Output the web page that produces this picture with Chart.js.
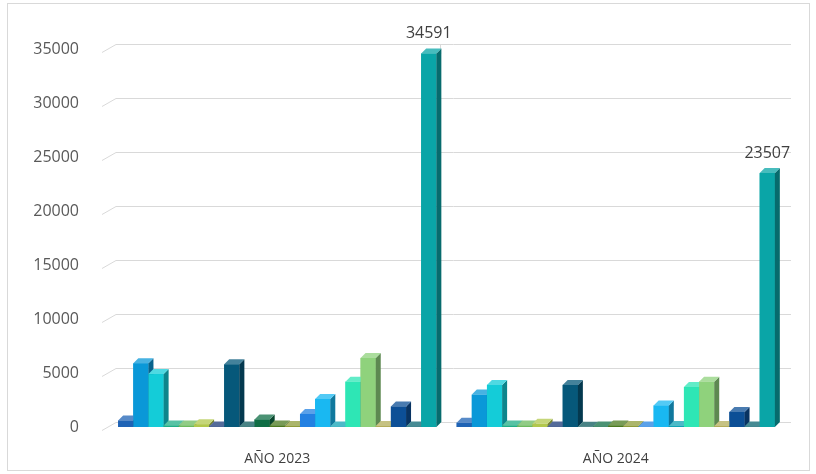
<!DOCTYPE html>
<html>
<head>
<meta charset="utf-8">
<script src="https://cdn.jsdelivr.net/npm/chart.js@4.4.1/dist/chart.umd.min.js"></script>
<style>
  html,body{margin:0;padding:0;background:#fff;}
  #frame{position:absolute;left:7px;top:3px;width:803px;height:468px;border:1px solid #d9d9d9;box-sizing:border-box;}
  #wrap{position:absolute;left:0;top:0;width:816px;height:474px;}
</style>
</head>
<body>
<div id="frame"></div>
<div id="wrap"><canvas id="c" width="816" height="474"></canvas></div>
<script>
const categories = ["AÑO 2023", "AÑO 2024"];
const seriesNames = ["Serie 1","Serie 2","Serie 3","Serie 4","Serie 5","Serie 6","Serie 7","Serie 8","Serie 9","Serie 10","Serie 11","Serie 12","Serie 13","Serie 14","Serie 15","Serie 16","Serie 17","Serie 18","Serie 19","Serie 20","Serie 21"];
const values2023 = [600, 5900, 4900, 150, 150, 250, 50, 5800, 50, 700, 150, 100, 1200, 2600, 50, 4200, 6400, 100, 1900, 50, 34591];
const values2024 = [400, 3000, 3900, 150, 150, 300, 50, 3900, 30, 50, 150, 100, 50, 2000, 100, 3700, 4200, 100, 1400, 50, 23507];
const seriesColors = ["#1f63b5","#0a98d8","#14ccd8","#1fae86","#6cbb5e","#b2c84c","#1b3a78","#06587a","#0c5a5c","#0f6d45","#4b7a1f","#8f9c3a","#2381e2","#19b8f2","#10a3b5","#2ee6b5","#8fd27c","#b3ad5a","#0c4f96","#0a6470","#0aa5a7"];
const yTicks = [0, 5000, 10000, 15000, 20000, 25000, 30000, 35000];

function shade(hex, f) {
  const n = parseInt(hex.slice(1), 16);
  let r = (n >> 16) & 255, g = (n >> 8) & 255, b = n & 255;
  if (f < 0) { r = Math.round(r * (1 + f)); g = Math.round(g * (1 + f)); b = Math.round(b * (1 + f)); }
  else { r = Math.round(r + (255 - r) * f); g = Math.round(g + (255 - g) * f); b = Math.round(b + (255 - b) * f); }
  return `rgb(${r},${g},${b})`;
}

const DEPTH = 5;
const BACK = 8;

const backWall = {
  id: 'backWall',
  beforeDatasetsDraw(chart) {
    const {ctx, chartArea: a, scales: {x, y}} = chart;
    ctx.save();
    ctx.strokeStyle = '#d9d9d9';
    ctx.lineWidth = 1;
    yTicks.forEach(v => {
      const py = Math.round(y.getPixelForValue(v)) + 0.5;
      ctx.beginPath();
      ctx.moveTo(a.left - 6, py + 3);
      ctx.lineTo(a.left + 8, py - BACK + 3);
      ctx.lineTo(a.right + 6, py - BACK + 3);
      ctx.stroke();
    });
    const mx = Math.round(x.getPixelForValue(0.5)) - 6.5;
    ctx.beginPath();
    ctx.moveTo(mx, y.getPixelForValue(35000) - BACK + 3);
    ctx.lineTo(mx, y.getPixelForValue(0) - BACK + 3);
    ctx.stroke();
    ctx.restore();
  }
};

const bars3d = {
  id: 'bars3d',
  afterDatasetsDraw(chart) {
    const {ctx} = chart;
    ctx.save();
    chart.data.datasets.forEach((ds, i) => {
      const meta = chart.getDatasetMeta(i);
      meta.data.forEach(el => {
        const {x, y, base, width} = el.getProps(['x','y','base','width'], true);
        const l = x - width / 2, r = x + width / 2;
        const col = ds.backgroundColor;
        ctx.fillStyle = col;
        ctx.fillRect(l, y, width, base - y);
        ctx.fillStyle = shade(col, -0.35);
        ctx.beginPath();
        ctx.moveTo(r, y); ctx.lineTo(r + DEPTH, y - DEPTH);
        ctx.lineTo(r + DEPTH, base - DEPTH); ctx.lineTo(r, base);
        ctx.closePath(); ctx.fill();
        ctx.fillStyle = shade(col, 0.25);
        ctx.beginPath();
        ctx.moveTo(l, y); ctx.lineTo(l + DEPTH, y - DEPTH);
        ctx.lineTo(r + DEPTH, y - DEPTH); ctx.lineTo(r, y);
        ctx.closePath(); ctx.fill();
      });
    });
    ctx.fillStyle = '#404040';
    ctx.font = '16px "Open Sans"';
    ctx.textAlign = 'center';
    ctx.textBaseline = 'bottom';
    const last = chart.data.datasets.length - 1;
    chart.getDatasetMeta(last).data.forEach((el, j) => {
      const v = chart.data.datasets[last].data[j];
      ctx.fillText(String(v), el.x, el.y - 12);
    });
    ctx.restore();
  }
};

const datasets = seriesNames.map((name, i) => ({
  label: name,
  data: [values2023[i], values2024[i]],
  backgroundColor: seriesColors[i],
  borderWidth: 0
}));

new Chart(document.getElementById('c'), {
  type: 'bar',
  data: { labels: categories, datasets },
  options: {
    responsive: false,
    animation: false,
    events: [],
    layout: { padding: { top: 49, right: 31, left: 0, bottom: 0 } },
    plugins: { legend: { display: false }, tooltip: { enabled: false } },
    datasets: { bar: { categoryPercentage: 0.94, barPercentage: 1.0 } },
    scales: {
      x: {
        grid: { display: false },
        border: { display: false },
        ticks: { color: '#404040', font: { family: 'Open Sans', size: 14 }, padding: 16 },
        afterFit(s) { s.height = 47; }
      },
      y: {
        min: 0, max: 35000,
        grid: { display: false },
        border: { display: false },
        ticks: { stepSize: 5000, color: '#595959', font: { family: 'Open Sans', size: 16 }, padding: 21,
                 callback: v => String(v) },
        afterFit(s) { s.width = 108; }
      }
    }
  },
  plugins: [backWall, bars3d]
});
</script>
</body>
</html>
